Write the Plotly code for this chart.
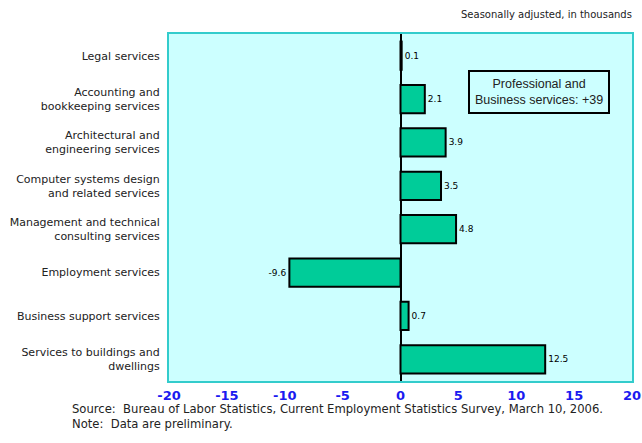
import plotly.graph_objects as go

categories = [
    "Legal services",
    "Accounting and<br>bookkeeping services",
    "Architectural and<br>engineering services",
    "Computer systems design<br>and related services",
    "Management and technical<br>consulting services",
    "Employment services",
    "Business support services",
    "Services to buildings and<br>dwellings",
]
values = [0.1, 2.1, 3.9, 3.5, 4.8, -9.6, 0.7, 12.5]
value_labels = ["0.1", "2.1", "3.9", "3.5", "4.8", "-9.6", "0.7", "12.5"]
tick_vals = [-20, -15, -10, -5, 0, 5, 10, 15, 20]
tick_text = ["-20", "-15", "-10", "-5", "0", "5", "10", "15", "20"]

font_family = "DejaVu Sans"

fig = go.Figure()
fig.add_trace(go.Bar(
    y=categories, x=values, orientation="h",
    marker=dict(color="#00CC99", line=dict(color="black", width=2)),
    width=0.65,
    text=value_labels, textposition="outside",
    textfont=dict(size=9, color="black", family=font_family),
    cliponaxis=False,
    hoverinfo="skip",
))

fig.update_layout(
    width=642, height=443,
    margin=dict(l=169, r=10, t=34, b=62),
    paper_bgcolor="white",
    plot_bgcolor="#CCFFFF",
    showlegend=False,
    font=dict(family=font_family, size=11, color="#222222"),
    xaxis=dict(range=[-20, 20], tickvals=tick_vals, ticktext=tick_text,
               tickfont=dict(size=13, color="#1A1AF0", family=font_family, weight="bold"),
               showgrid=False, zeroline=True, zerolinecolor="black", zerolinewidth=2,
               showline=True, linecolor="#33CCCC", linewidth=2, mirror=True,
               ticks="", ticklen=0, automargin=False, ticklabelstandoff=1),
    yaxis=dict(autorange="reversed", showgrid=False, automargin=False,
               showline=True, linecolor="#33CCCC", linewidth=2, mirror=True,
               tickfont=dict(size=11, color="#222222"), ticks="", ticklabelstandoff=5),
)

fig.add_annotation(
    text="Professional and<br>Business services: +39",
    xref="x", yref="y", x=12.0, y=0.84, showarrow=False,
    font=dict(size=12.5, color="#222222", family="Liberation Sans"),
    bordercolor="black", borderwidth=2, borderpad=5, bgcolor="#CCFFFF",
)
fig.add_annotation(
    text="Seasonally adjusted, in thousands",
    xref="paper", yref="paper", x=1.0, y=1.0, yshift=12, xshift=2, xanchor="right", yanchor="bottom",
    showarrow=False, font=dict(size=10, color="#222222"),
)
fig.add_annotation(
    text="Source:  Bureau of Labor Statistics, Current Employment Statistics Survey, March 10, 2006.<br>Note:  Data are preliminary.",
    xref="paper", yref="paper", x=-0.21, y=0, yshift=-19, xshift=-2, xanchor="left", yanchor="top",
    align="left", showarrow=False, font=dict(size=11.6, color="#222222"),
)

fig.write_html(
    "out.html",
    config={"displayModeBar": False},
    post_script="document.body.style.margin='0px';document.body.style.overflow='hidden';",
)
